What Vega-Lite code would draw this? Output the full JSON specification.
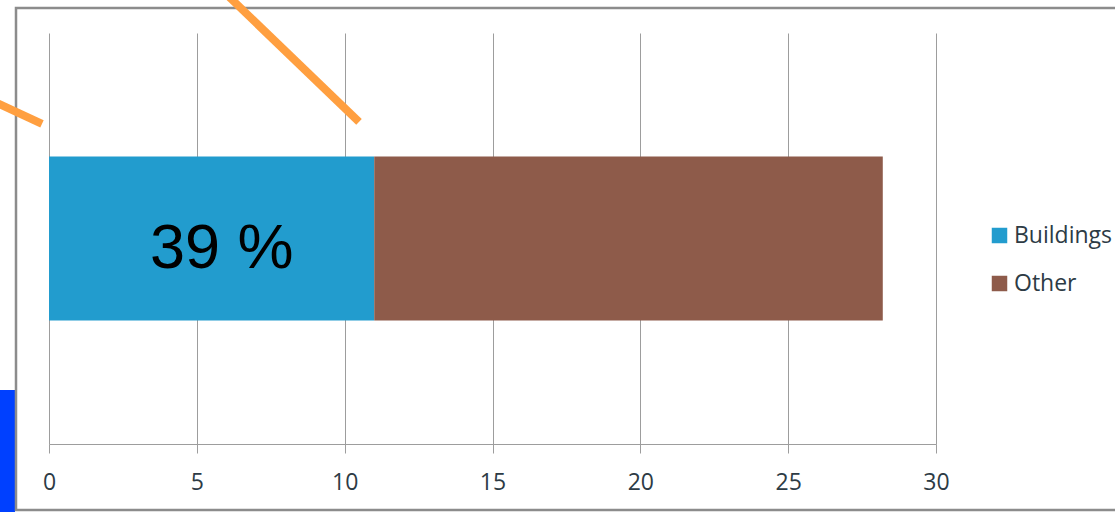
{
  "$schema": "https://vega.github.io/schema/vega-lite/v6.json",
  "width": 887,
  "height": 411,
  "autosize": {"type": "none"},
  "padding": {"left": 49, "top": 33, "right": 179, "bottom": 68},
  "background": "white",
  "config": {
    "view": {"stroke": null},
    "font": "Open Sans"
  },
  "datasets": {
    "shares": [
      {"bar": "total", "sector": "Buildings", "value": 11, "label": "39 %"},
      {"bar": "total", "sector": "Other", "value": 17.2}
    ],
    "marker": [
      {"x": -2.5, "x2": -1.15, "v": 13.14, "v2": -18.5}
    ],
    "frame": [
      {"x": -1.116, "x2": 36.4, "v": 106.08, "v2": -16.06}
    ],
    "strokes": [
      {"id": 1, "step": 0, "x": -2.334, "v": 84.91},
      {"id": 1, "step": 1, "x": -0.237, "v": 77.86},
      {"id": 2, "step": 0, "x": 5.851, "v": 110.46},
      {"id": 2, "step": 1, "x": 10.485, "v": 78.35}
    ]
  },
  "layer": [
    {
      "data": {"name": "marker"},
      "mark": {"type": "rect", "fill": "#0040ff", "clip": false},
      "encoding": {
        "x": {"field": "x", "type": "quantitative", "scale": {"domain": [0, 30], "nice": false}, "title": null},
        "x2": {"field": "x2"},
        "y": {"field": "v", "type": "quantitative", "scale": {"domain": [0, 100], "nice": false}, "axis": null},
        "y2": {"field": "v2"}
      }
    },
    {
      "data": {"name": "frame"},
      "mark": {"type": "rect", "fill": null, "stroke": "#8c8c8c", "strokeWidth": 2.5, "clip": false},
      "encoding": {
        "x": {"field": "x", "type": "quantitative", "scale": {"domain": [0, 30], "nice": false}, "title": null},
        "x2": {"field": "x2"},
        "y": {"field": "v", "type": "quantitative", "scale": {"domain": [0, 100], "nice": false}, "axis": null},
        "y2": {"field": "v2"}
      }
    },
    {
      "data": {"name": "shares"},
      "mark": {"type": "bar"},
      "encoding": {
        "x": {
          "field": "value",
          "type": "quantitative",
          "stack": "zero",
          "scale": {"domain": [0, 30], "nice": false},
          "title": null,
          "axis": {
            "values": [0, 5, 10, 15, 20, 25, 30],
            "grid": true,
            "gridColor": "#9d9d9d",
            "gridWidth": 1,
            "domainColor": "#9d9d9d",
            "domainWidth": 1,
            "tickColor": "#9d9d9d",
            "tickSize": 9,
            "tickWidth": 1,
            "labelFont": "Open Sans",
            "labelFontSize": 23,
            "labelColor": "#2d3b45",
            "labelPadding": 18,
            "labelFlush": false
          }
        },
        "y": {
          "field": "bar",
          "type": "nominal",
          "scale": {"paddingInner": 0, "paddingOuter": 0.753},
          "axis": null
        },
        "color": {
          "field": "sector",
          "type": "nominal",
          "scale": {"domain": ["Buildings", "Other"], "range": ["#229cce", "#8e5b4a"]},
          "legend": {
            "title": null,
            "orient": "none",
            "legendX": 939,
            "legendY": 191,
            "padding": 0,
            "symbolType": "square",
            "symbolSize": 240,
            "symbolStrokeWidth": 0,
            "labelFont": "Open Sans",
            "labelFontSize": 23,
            "labelColor": "#2d3b45",
            "labelOffset": 3,
            "rowPadding": 24
          }
        },
        "order": {"field": "sector", "sort": "ascending"}
      }
    },
    {
      "data": {"name": "shares"},
      "transform": [{"filter": "datum.sector === 'Buildings'"}],
      "mark": {
        "type": "text",
        "font": "Liberation Sans",
        "fontSize": 63,
        "color": "#000000",
        "align": "center",
        "baseline": "alphabetic",
        "dx": -152.5,
        "dy": 29
      },
      "encoding": {
        "x": {"field": "value", "type": "quantitative", "scale": {"domain": [0, 30], "nice": false}, "title": null},
        "y": {"field": "bar", "type": "nominal", "scale": {"paddingInner": 0, "paddingOuter": 0.753}, "axis": null},
        "text": {"field": "label", "type": "nominal"}
      }
    },
    {
      "data": {"name": "strokes"},
      "mark": {"type": "line", "stroke": "#ff9f40", "strokeWidth": 8, "strokeCap": "butt", "clip": false},
      "encoding": {
        "x": {"field": "x", "type": "quantitative", "scale": {"domain": [0, 30], "nice": false}, "title": null},
        "y": {"field": "v", "type": "quantitative", "scale": {"domain": [0, 100], "nice": false}, "axis": null},
        "detail": {"field": "id", "type": "nominal"},
        "order": {"field": "step", "type": "quantitative"}
      }
    }
  ],
  "resolve": {"scale": {"y": "independent"}}
}
